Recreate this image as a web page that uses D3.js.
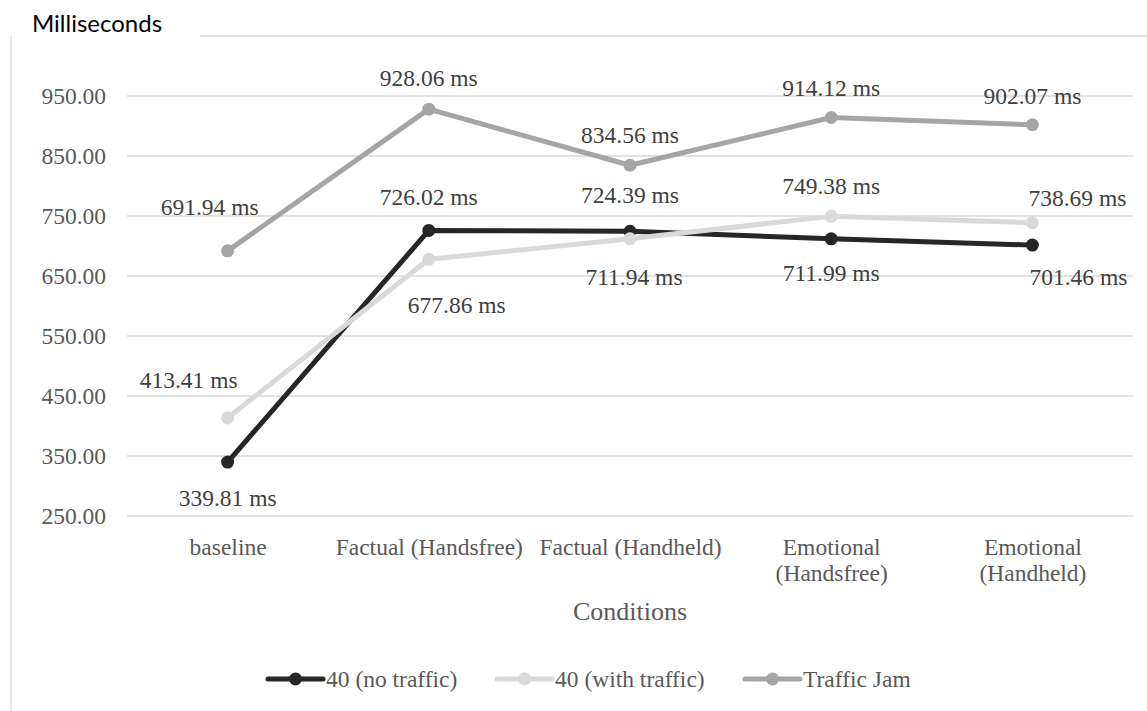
<!DOCTYPE html>
<html>
<head>
<meta charset="utf-8">
<script src="https://cdn.jsdelivr.net/npm/d3@7"></script>
<style>
  html, body { margin: 0; padding: 0; background: #fff; }
  svg { display: block; }
</style>
</head>
<body>
<svg id="chart" width="1147" height="711"></svg>
<script>
// Reaction times per condition, in milliseconds
const categories = [
  ["baseline"],
  ["Factual (Handsfree)"],
  ["Factual (Handheld)"],
  ["Emotional", "(Handsfree)"],
  ["Emotional", "(Handheld)"]
];
const seriesNames = ["40 (no traffic)", "40 (with traffic)", "Traffic Jam"];
const noTraffic   = [339.81, 726.02, 724.39, 711.99, 701.46];
const withTraffic = [413.41, 677.86, 711.94, 749.38, 738.69];
const trafficJam  = [691.94, 928.06, 834.56, 914.12, 902.07];
const yTicks = [250, 350, 450, 550, 650, 750, 850, 950];

const seriesValues = [noTraffic, withTraffic, trafficJam];
const seriesColors = ["#262626", "#d9d9d9", "#a5a5a5"];

// label offsets [dx, dy] from each point to its value label baseline
const labelOffsets = [
  [[0, 44], [0, -25], [0, -28], [0, 42], [46, 40]],
  [[-39, -30], [28, 54], [4, 46], [0, -22], [45, -17]],
  [[-18, -36], [0, -23], [0, -22], [0, -22], [0, -21]]
];

const svg = d3.select("#chart");
const serif = "Liberation Serif";

// outer frame
svg.append("line").attr("x1", 11).attr("x2", 11).attr("y1", 36).attr("y2", 711)
  .attr("stroke", "#d9d9d9").attr("stroke-width", 1.3);
svg.append("line").attr("x1", 200).attr("x2", 1147).attr("y1", 36).attr("y2", 36)
  .attr("stroke", "#d9d9d9").attr("stroke-width", 1.3);
svg.append("text").attr("x", 32).attr("y", 32)
  .attr("font-family", "Lato").attr("font-size", 24)
  .attr("fill", "#000").text("Milliseconds");

const x = d3.scalePoint()
  .domain(d3.range(categories.length))
  .range([127, 1133])
  .padding(0.5);
const y = d3.scaleLinear().domain([250, 950]).range([516, 96]);

// horizontal gridlines
svg.append("g").selectAll("line").data(yTicks).join("line")
  .attr("x1", 127).attr("x2", 1133)
  .attr("y1", d => y(d)).attr("y2", d => y(d))
  .attr("stroke", "#d9d9d9").attr("stroke-width", 1.3);

// y axis tick labels
const yAxis = d3.axisLeft(y).tickValues(yTicks).tickFormat(d3.format(".2f")).tickSize(0).tickPadding(0);
const yg = svg.append("g").attr("transform", "translate(106,0)").call(yAxis);
yg.select(".domain").remove();
yg.selectAll("text")
  .attr("font-family", serif).attr("font-size", 23.5).attr("fill", "#595959")
  .attr("dy", "0.33em");

// x axis category labels
const xAxis = d3.axisBottom(x).tickSize(0).tickFormat(() => "");
const xg = svg.append("g").attr("transform", "translate(0,516)").call(xAxis);
xg.select(".domain").remove();
xg.selectAll(".tick").each(function(d) {
  const t = d3.select(this).append("text")
    .attr("text-anchor", "middle")
    .attr("font-family", serif).attr("font-size", 23.5).attr("fill", "#595959");
  categories[d].forEach((line, i) => {
    t.append("tspan").attr("x", 0).attr("y", 39 + i * 26).text(line);
  });
});

// axis title
svg.append("text").attr("x", 630).attr("y", 620).attr("text-anchor", "middle")
  .attr("font-family", serif).attr("font-size", 26).attr("fill", "#595959")
  .text("Conditions");

// series lines, markers and value labels
const line = d3.line().x((d, i) => x(i)).y(d => y(d));
seriesValues.forEach((vals, s) => {
  const g = svg.append("g");
  g.append("path").datum(vals).attr("d", line)
    .attr("fill", "none").attr("stroke", seriesColors[s])
    .attr("stroke-width", 5).attr("stroke-linejoin", "round").attr("stroke-linecap", "round");
  g.selectAll("circle").data(vals).join("circle")
    .attr("cx", (d, i) => x(i)).attr("cy", d => y(d)).attr("r", 6.5)
    .attr("fill", seriesColors[s]);
});
seriesValues.forEach((vals, s) => {
  svg.append("g").selectAll("text").data(vals).join("text")
    .attr("x", (d, i) => x(i) + labelOffsets[s][i][0])
    .attr("y", (d, i) => y(d) + labelOffsets[s][i][1])
    .attr("text-anchor", "middle")
    .attr("font-family", serif).attr("font-size", 23.5).attr("fill", "#404040")
    .text(d => d3.format(".2f")(d) + " ms");
});

// legend
const legendX = [268, 497, 745];
const legend = svg.append("g").attr("transform", "translate(0,679)");
seriesNames.forEach((name, s) => {
  const lg = legend.append("g").attr("transform", `translate(${legendX[s]},0)`);
  lg.append("line").attr("x1", 0).attr("x2", 55).attr("y1", 0).attr("y2", 0)
    .attr("stroke", seriesColors[s]).attr("stroke-width", 5).attr("stroke-linecap", "round");
  lg.append("circle").attr("cx", 27.5).attr("cy", 0).attr("r", 6.5).attr("fill", seriesColors[s]);
  lg.append("text").attr("x", 58).attr("y", 8)
    .attr("font-family", serif).attr("font-size", 23.5).attr("fill", "#595959")
    .text(name);
});
</script>
</body>
</html>
